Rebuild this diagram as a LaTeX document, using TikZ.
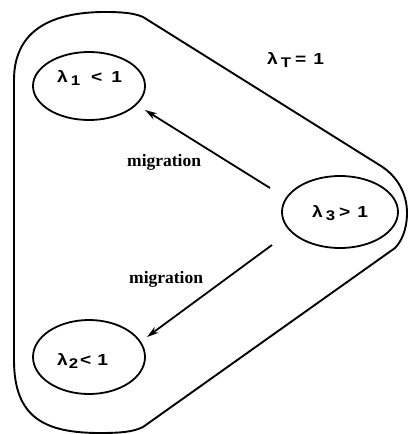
\documentclass[tikz,border=0pt]{standalone}
\usepackage{fontspec}
\setmainfont{Liberation Serif}
\newfontfamily\labfont{Liberation Sans}[FakeStretch=1.2]
\usetikzlibrary{shapes.geometric,arrows.meta}
\tikzset{
  pop/.style={draw, ellipse, line width=1.8pt, minimum width=112pt, minimum height=68pt, inner sep=0pt},
  lab/.style={font=\labfont\bfseries\fontsize{16}{18}\selectfont, inner sep=0pt, anchor=base west},
  mig/.style={font=\bfseries\fontsize{17.5}{19}\selectfont, inner sep=0pt, anchor=base west},
  arr/.style={line width=1.8pt, -{Stealth[length=12pt,width=7pt]}},
  outline/.style={line width=1.9pt}
}
\newcommand{\sbx}[1]{\raisebox{-3pt}{\fontsize{14}{15}\selectfont #1}}
\begin{document}
\begin{tikzpicture}[x=1pt,y=-1pt]
\useasboundingbox (0,0) rectangle (409,434);
% outer region
\draw[outline] (143,17) -- (381,166)
  .. controls (398,177) and (407,194) .. (407,213)
  .. controls (407,230) and (401,242) .. (395,248)
  -- (143,427)
  .. controls (133,432) and (120,433) .. (100,433)
  .. controls (45,433) and (14,418) .. (14,360)
  -- (14,80)
  .. controls (14,28) and (55,12) .. (105,12)
  .. controls (122,12) and (134,13) .. (143,17);
% populations
\node[pop] (p1) at (89,86) {};
\node[pop, minimum width=116pt, minimum height=72pt] (p3) at (340,212) {};
\node[pop, minimum height=74pt] (p2) at (89,357) {};
\node[lab] (t1) at (57,82) {λ\hspace{3pt}\sbx{1}\hspace{11pt}<\hspace{9pt}1};
\node[lab] (t3) at (312,217) {λ\hspace{3pt}\sbx{3}\hspace{4pt}>\hspace{7pt}1};
\node[lab] (t2) at (57,365) {λ\hspace{1pt}\sbx{2}\hspace{2pt}<\hspace{6pt}1};
\node[lab] (tT) at (267,64) {λ\hspace{3pt}\sbx{T}\hspace{4pt}=\hspace{7pt}1};
% migration arrows
\coordinate (a1s) at (270,188);
\coordinate (a1e) at (145,110);
\coordinate (a2s) at (272,245);
\coordinate (a2e) at (147,337);
\draw[arr] (a1s) -- (a1e);
\draw[arr] (a2s) -- (a2e);
\node[mig] (m1) at (127,166) {migration};
\node[mig] (m2) at (129,283) {migration};
\end{tikzpicture}
\end{document}
